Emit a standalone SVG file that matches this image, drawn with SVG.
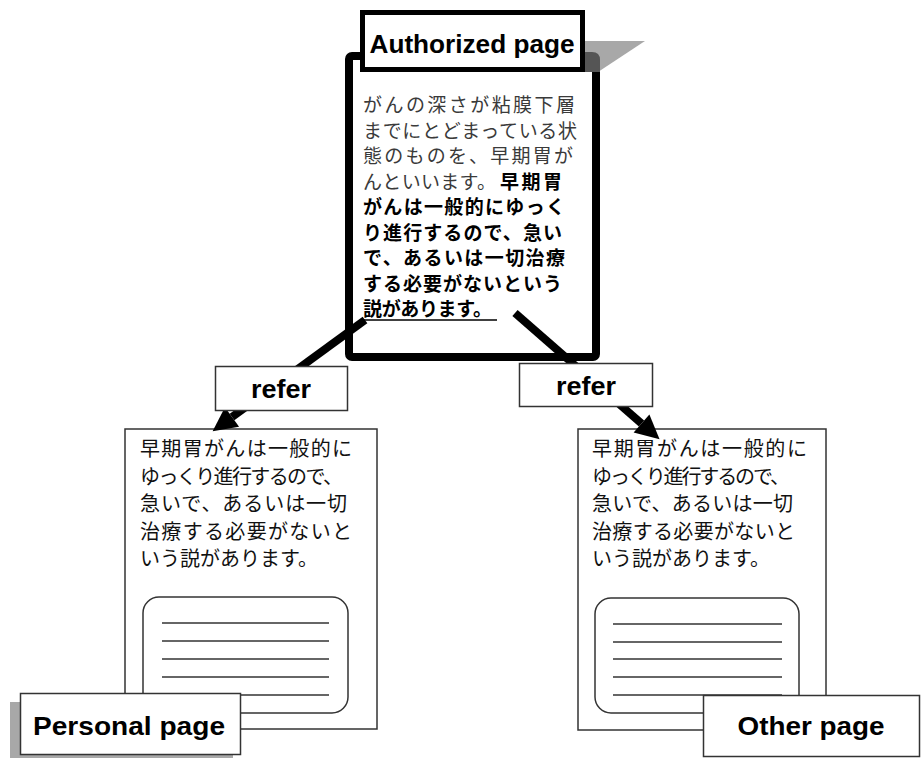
<svg xmlns="http://www.w3.org/2000/svg" width="922" height="759" viewBox="0 0 922 759">
<style>
  .jp { font-family: "Noto Sans CJK JP", "Noto Sans", sans-serif; font-size: 20px; }
  .auth { font-size: 19px; }
  .lite { fill: #3a3a3a; font-weight: 400; }
  .bold { fill: #000; font-weight: 700; }
  .pg { fill: #111; font-weight: 400; }
  .lbl { font-family: "Liberation Sans", Arial, sans-serif; font-weight: 700; font-size: 26px; fill: #000; text-anchor: middle; }
  .thin { fill: #fff; stroke: #333; stroke-width: 1.5; }
  .rule { stroke: #333; stroke-width: 1.5; }
  .conn { stroke: #000; stroke-width: 8; fill: none; }
  .shadow { fill: #a8a8a8; }
</style>
<defs>
  <marker id="arrow" markerUnits="userSpaceOnUse" markerWidth="26" markerHeight="26" refX="0" refY="12" orient="auto" overflow="visible">
    <path d="M0,0 L24,12 L0,24 z" fill="#000"/>
  </marker>
</defs>
<rect width="922" height="759" fill="#fff"/>

<g id="authorized">
  <rect x="349" y="56" width="247" height="301" rx="3" fill="#fff" stroke="#000" stroke-width="8"/>
  <polygon class="shadow" points="585,41 645,41 598,72 585,72"/>
  <path d="M585,52 L592,52 Q600,52 600,60 L600,72 L585,72 z" fill="#555"/>
  <rect x="362.5" y="12.5" width="220" height="57" fill="#fff" stroke="#000" stroke-width="5"/>
  <text class="lbl" x="472" y="53" textLength="205" lengthAdjust="spacingAndGlyphs">Authorized page</text>
  <text class="jp auth lite" x="363" y="112" textLength="212">がんの深さが粘膜下層</text>
  <text class="jp auth lite" x="363" y="137.5" textLength="214">までにとどまっている状</text>
  <text class="jp auth lite" x="363" y="163" textLength="210">態のものを、早期胃が</text>
  <text class="jp auth lite" x="363" y="188.5" textLength="133">んといいます。</text>
  <text class="jp auth bold" x="500" y="188.5" textLength="62">早期胃</text>
  <text class="jp auth bold" x="363" y="214" textLength="202">がんは一般的にゆっく</text>
  <text class="jp auth bold" x="363" y="239.5" textLength="199">り進行するので、急い</text>
  <text class="jp auth bold" x="363" y="265" textLength="202">で、あるいは一切治療</text>
  <text class="jp auth bold" x="363" y="290.5" textLength="199">する必要がないという</text>
  <text class="jp auth bold" x="363" y="316" textLength="129">説があります。</text>
  <line x1="363" y1="320" x2="497" y2="320" stroke="#000" stroke-width="1.5"/>
</g>

<g id="personal">
  <rect class="thin" x="125" y="429" width="252" height="300"/>
  <text class="jp pg" x="140" y="456" textLength="212">早期胃がんは一般的に</text>
  <text class="jp pg" x="140" y="483.5" textLength="203">ゆっくり進行するので、</text>
  <text class="jp pg" x="140" y="511" textLength="207">急いで、あるいは一切</text>
  <text class="jp pg" x="140" y="538.5" textLength="212">治療する必要がないと</text>
  <text class="jp pg" x="140" y="566">いう説があります。</text>
  <rect class="thin" x="143" y="597" width="205" height="116" rx="16"/>
  <line class="rule" x1="162" y1="623" x2="329" y2="623"/>
  <line class="rule" x1="162" y1="641" x2="329" y2="641"/>
  <line class="rule" x1="162" y1="659" x2="329" y2="659"/>
  <line class="rule" x1="162" y1="677" x2="329" y2="677"/>
  <line class="rule" x1="162" y1="695" x2="329" y2="695"/>
  <rect class="shadow" x="10" y="702" width="223" height="56"/>
  <rect class="thin" x="20.5" y="693.5" width="220" height="61"/>
  <text class="lbl" x="129" y="735" textLength="192" lengthAdjust="spacingAndGlyphs">Personal page</text>
</g>

<g id="other">
  <rect class="thin" x="578" y="429" width="248" height="301"/>
  <text class="jp pg" x="592" y="456" textLength="215">早期胃がんは一般的に</text>
  <text class="jp pg" x="592" y="483.5" textLength="198">ゆっくり進行するので、</text>
  <text class="jp pg" x="592" y="511" textLength="201">急いで、あるいは一切</text>
  <text class="jp pg" x="592" y="538.5" textLength="203">治療する必要がないと</text>
  <text class="jp pg" x="592" y="566">いう説があります。</text>
  <rect class="thin" x="595" y="598" width="204" height="115" rx="16"/>
  <line class="rule" x1="613" y1="624" x2="782" y2="624"/>
  <line class="rule" x1="613" y1="642" x2="782" y2="642"/>
  <line class="rule" x1="613" y1="659" x2="782" y2="659"/>
  <line class="rule" x1="613" y1="677" x2="782" y2="677"/>
  <line class="rule" x1="613" y1="695" x2="782" y2="695"/>
  <rect class="thin" x="703.5" y="695.5" width="216" height="61"/>
  <text class="lbl" x="811" y="735" textLength="147" lengthAdjust="spacingAndGlyphs">Other page</text>
</g>

<g id="connectors">
  <line class="conn" x1="365" y1="320" x2="232" y2="417" marker-end="url(#arrow)"/>
  <line class="conn" x1="515" y1="313" x2="641.5" y2="423.5" marker-end="url(#arrow)"/>
</g>

<g id="refer-left">
  <rect class="thin" x="215.5" y="366.5" width="132" height="44"/>
  <text class="lbl" x="281" y="398" textLength="60" lengthAdjust="spacingAndGlyphs">refer</text>
</g>

<g id="refer-right">
  <rect class="thin" x="519.5" y="363.5" width="133" height="43"/>
  <text class="lbl" x="586" y="395" textLength="60" lengthAdjust="spacingAndGlyphs">refer</text>
</g>
</svg>
